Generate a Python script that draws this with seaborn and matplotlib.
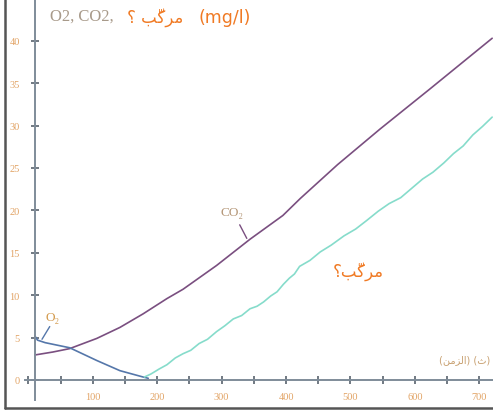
import pandas as pd
import seaborn as sns
import matplotlib.pyplot as plt
from matplotlib.lines import Line2D
from matplotlib.ticker import MultipleLocator

# values (time in s, concentration in mg/l)
co2_t = [10, 38, 64, 106, 142, 178, 215, 240, 292, 344, 395, 422, 480, 546, 623, 720]
co2_v = [2.95, 3.3, 3.7, 4.9, 6.2, 7.8, 9.6, 10.7, 13.5, 16.6, 19.4, 21.4, 25.4, 29.6, 34.3, 40.3]

o2_t = [10, 14, 26, 64, 106, 142, 178, 186]
o2_v = [5.2, 4.7, 4.4, 3.8, 2.3, 1.1, 0.35, 0.2]

cmp_t = [180, 190, 203, 215, 228, 240, 252, 265, 278, 292, 305, 318, 331, 344, 355, 365,
         376, 386, 396, 405, 413, 421, 437, 453, 470, 490, 508, 525, 543, 560, 578, 595,
         612, 628, 645, 660, 675, 690, 705, 720]
cmp_v = [0.35, 0.7, 1.3, 1.8, 2.6, 3.1, 3.5, 4.3, 4.8, 5.7, 6.4, 7.2, 7.6, 8.4, 8.7, 9.2,
         9.9, 10.4, 11.3, 12.0, 12.5, 13.4, 14.1, 15.1, 15.9, 17.0, 17.8, 18.8, 19.9, 20.8,
         21.5, 22.6, 23.7, 24.5, 25.6, 26.7, 27.6, 28.9, 29.9, 31.0]

x_ticks = [100, 200, 300, 400, 500, 600, 700]
y_ticks = [0, 5, 10, 15, 20, 25, 30, 35, 40]

# Arabic written in visual order with presentation forms (matplotlib has no shaping)
compound_ar = "\u061F\uFE90\u0651\uFEDB\uFEAE\uFEE3"          # مركّب؟
compound_top = "\u061F \uFE90\u0651\uFEDB\uFEAE\uFEE3"        # ؟ مركّب
time_ar = "(\uFEE6\uFEE3\uFEB0\uFEDF\uFE8D) (\uFE99)"          # الزمن (ث)

sns.set_style("white")
plt.rcParams['font.family'] = ['Liberation Serif', 'DejaVu Sans']

fig = plt.figure(figsize=(4.93, 4.14), dpi=100)
ax = fig.add_axes([25 / 493, 13 / 414, 468 / 493, 401 / 414])

df = pd.concat([
    pd.DataFrame({'t': co2_t, 'v': co2_v, 's': 'CO2'}),
    pd.DataFrame({'t': o2_t, 'v': o2_v, 's': 'O2'}),
    pd.DataFrame({'t': cmp_t, 'v': cmp_v, 's': 'cmp'}),
])
palette = {'CO2': '#7a4f80', 'O2': '#5577aa', 'cmp': '#86dccb'}
sns.lineplot(data=df, x='t', y='v', hue='s', palette=palette, sort=False,
             estimator=None, linewidth=1.2, legend=False, ax=ax)

ax.set_xlim(-5.4, 721.3)
ax.set_ylim(-2.36, 44.93)
ax.spines['left'].set_position(('data', 10))
ax.spines['bottom'].set_position(('data', 0))
ax.spines['top'].set_visible(False)
ax.spines['right'].set_visible(False)
for s in ('left', 'bottom'):
    ax.spines[s].set_color('#7f8c99')
    ax.spines[s].set_linewidth(1.4)

ax.set_xticks(x_ticks)
ax.set_yticks(y_ticks)
ax.xaxis.set_minor_locator(MultipleLocator(50))
ax.tick_params(axis='both', which='both', direction='inout', length=6, width=1.1,
               color='#4a5560', labelsize=7.5, labelcolor='#e2a466',
               bottom=True, left=True)
ax.tick_params(axis='x', pad=6)
ax.tick_params(axis='y', pad=8)
ax.set_xlabel('')
ax.set_ylabel('')

# curve labels
ax.text(38, 7.4, 'O\u2082', color='#d39a4c', fontsize=9.5, ha='center', va='center')
ax.plot([33, 21], [6.3, 4.8], color='#5577aa', lw=1)
ax.text(316, 19.8, 'CO\u2082', color='#b49677', fontsize=9.5, ha='center', va='center')
ax.plot([328, 339], [18.3, 16.7], color='#7a4f80', lw=1)
ax.text(512, 12.9, compound_ar, color='#f07a24', fontsize=12, ha='center', va='center',
        family=['DejaVu Sans'])
ax.text(717, 2.5, time_ar, color='#c8a070', fontsize=7, ha='right', va='center',
        family=['DejaVu Sans'])

# axis title at top
fig.text(50 / 493, 1 - 17 / 414, 'O2, CO2,', color='#a89a8a', fontsize=12,
         ha='left', va='center')
fig.text(127 / 493, 1 - 18 / 414, compound_top, color='#f07a24',
         fontsize=12, ha='left', va='center', family=['DejaVu Sans'],
         bbox=dict(facecolor='white', edgecolor='none', pad=2))
fig.text(198 / 493, 1 - 18 / 414, '(mg/l)', color='#f07a24',
         fontsize=12.5, ha='left', va='center', family=['DejaVu Sans'])

# frame lines of the cropped picture
fig.add_artist(Line2D([5 / 493, 5 / 493], [5 / 414, 1], color='#555555', lw=1.8))
fig.add_artist(Line2D([5 / 493, 1], [5 / 414, 5 / 414], color='#555555', lw=1.8))

fig.savefig('out.png', dpi=100)
